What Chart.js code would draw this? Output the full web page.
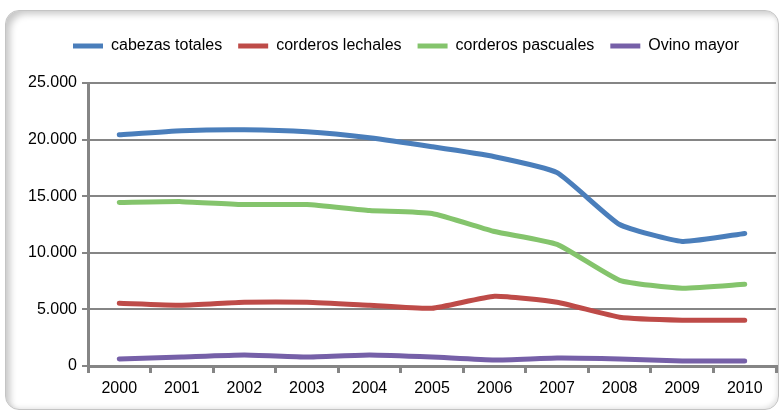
<!DOCTYPE html>
<html>
<head>
<meta charset="utf-8">
<script src="https://cdn.jsdelivr.net/npm/chart.js@4"></script>
<style>
  html, body { margin: 0; padding: 0; background: #fff; }
  #wrap { position: relative; width: 783px; height: 411px; overflow: hidden; }
  #card {
    position: absolute; left: 5px; top: 10px; width: 772px; height: 398px;
    border-radius: 14px; border: 1px solid #c4c4c4; background: #fff;
    box-shadow: inset 7px 6px 7px -3px rgba(0,0,0,0.22), inset -3px -3px 5px -2px rgba(0,0,0,0.12);
  }
  #chartCanvas { position: absolute; left: 0; top: 0; }
</style>
</head>
<body>
<div id="wrap">
  <div id="card"></div>
  <canvas id="chartCanvas" width="783" height="411"></canvas>
</div>
<script>
const years = ["2000", "2001", "2002", "2003", "2004", "2005", "2006", "2007", "2008", "2009", "2010"];
const cabezasTotales = [20420, 20780, 20860, 20690, 20160, 19370, 18490, 17080, 12500, 11000, 11710];
const corderosLechales = [5550, 5370, 5630, 5630, 5370, 5100, 6160, 5630, 4310, 4050, 4050];
const corderosPascuales = [14440, 14520, 14260, 14260, 13730, 13470, 11880, 10740, 7570, 6870, 7220];
const ovinoMayor = [620, 790, 970, 790, 970, 790, 530, 700, 620, 440, 440];
const yTicks = [0, 5000, 10000, 15000, 20000, 25000];

const axisGray = "#858585";

function fmt(v) {
  return String(v).replace(/\B(?=(\d{3})+(?!\d))/g, ".");
}

function series(label, data, color) {
  return {
    label: label,
    data: data,
    borderColor: color,
    backgroundColor: color,
    borderWidth: 5,
    borderCapStyle: "round",
    pointRadius: 0,
    tension: 0.15,
  };
}

// legend: extra room below it and a small shift to the right
const legendTweak = {
  id: "legendTweak",
  beforeInit: function (chart) {
    const lg = chart.legend;
    const fit = lg.fit;
    lg.fit = function () {
      fit.call(this);
      this.height += 19;
    };
  },
  afterLayout: function (chart) {
    chart.legend.left += 18;
    chart.legend.right += 18;
  },
};

const ctx = document.getElementById("chartCanvas").getContext("2d");

new Chart(ctx, {
  type: "line",
  data: {
    labels: years,
    datasets: [
      series("cabezas totales", cabezasTotales, "#4a7ebb"),
      series("corderos lechales", corderosLechales, "#be4b48"),
      series("corderos pascuales", corderosPascuales, "#84c46c"),
      series("Ovino mayor", ovinoMayor, "#7660a8"),
    ],
  },
  plugins: [legendTweak],
  options: {
    responsive: false,
    animation: false,
    layout: { padding: { top: 22, right: 7, left: 0, bottom: 0 } },
    scales: {
      x: {
        offset: true,
        afterFit: function (scale) { scale.height = 45; },
        grid: {
          offset: true,
          drawOnChartArea: false,
          drawTicks: true,
          tickLength: 7,
          color: axisGray,
          lineWidth: 3,
        },
        border: { color: axisGray, width: 3 },
        ticks: {
          color: "#000",
          font: { family: "Liberation Sans, Arial", size: 16 },
          padding: 6,
          maxRotation: 0,
        },
      },
      y: {
        min: 0,
        max: 25000,
        afterFit: function (scale) { scale.width = 88; },
        afterBuildTicks: function (scale) {
          scale.ticks = yTicks.map(function (v) { return { value: v }; });
        },
        grid: {
          color: axisGray,
          lineWidth: 2,
          tickLength: 6,
        },
        border: { color: axisGray, width: 3 },
        ticks: {
          color: "#000",
          font: { family: "Liberation Sans, Arial", size: 16 },
          padding: 5,
          callback: function (v) { return fmt(v); },
        },
      },
    },
    plugins: {
      legend: {
        position: "top",
        labels: {
          usePointStyle: true,
          pointStyle: "line",
          pointStyleWidth: 30,
          padding: 16,
          color: "#000",
          font: { family: "Liberation Sans, Arial", size: 16 },
        },
      },
      tooltip: { enabled: false },
    },
  },
});
</script>
</body>
</html>
